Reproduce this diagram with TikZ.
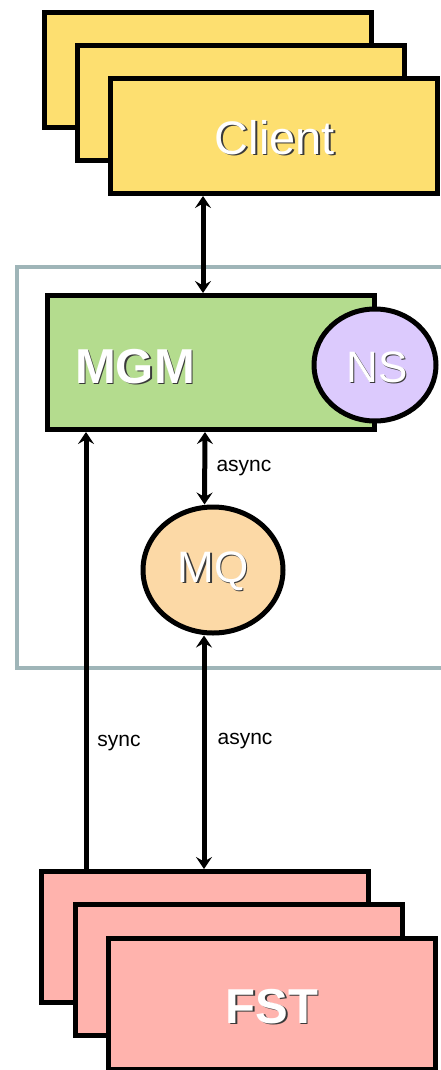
\documentclass[tikz,border=0pt]{standalone}
\usepackage{fontspec}
\setmainfont{Liberation Sans}
\usetikzlibrary{arrows.meta,shapes.geometric}
\definecolor{cyellow}{HTML}{FDDF70}
\definecolor{cgreen}{HTML}{B4DC8E}
\definecolor{clav}{HTML}{DCCAFD}
\definecolor{corange}{HTML}{FCD9A6}
\definecolor{cpink}{HTML}{FFB3AD}
\definecolor{cgray}{HTML}{9FB5B8}
\definecolor{shadowc}{HTML}{3A3A3A}
\newcommand\shtext[1]{\makebox[0pt][l]{\hspace{1.5pt}\raisebox{-1.5pt}{\textcolor{shadowc}{#1}}}\textcolor{white}{#1}}
\begin{document}
\begin{tikzpicture}[x=1pt,y=-1pt,
  card/.style={draw=black, line width=5pt, rectangle, inner sep=0pt, minimum width=327pt, minimum height=#1},
  oval/.style={draw=black, line width=5pt, ellipse, inner sep=0pt},
  bigtext/.style={inner sep=0pt, font=\fontsize{#1}{#1}\selectfont},
  small/.style={inner sep=0pt, font=\fontsize{21}{21}\selectfont, text=black},
  conn/.style={line width=5pt, draw=black},
  tip/.tip={Stealth[length=12pt,width=16pt,inset=4.5pt]}
]
\useasboundingbox (0,0) rectangle (441,1070);

% Client stack
\node[card=115pt, fill=cyellow] (cback) at (208,70) {};
\node[card=115pt, fill=cyellow] (cmid) at (241,103) {};
\node[card=115pt, fill=cyellow] (client) at (274,136) {};
\node[bigtext=47] (clienttext) at (275,138) {\shtext{Client}};

% container
\draw[cgray, line width=4.5pt] (17,267) rectangle (470,668);

% MGM
\node[card=134pt, fill=cgreen] (mgm) at (211,362.5) {};
\node[bigtext=49] (mgmtext) at (135,367) {\shtext{\bfseries MGM}};
\node[oval, fill=clav, minimum width=122pt, minimum height=112pt] (ns) at (375,365) {};
\node[bigtext=44] (nstext) at (377,368) {\shtext{NS}};

% MQ
\node[oval, fill=corange, minimum width=140pt, minimum height=126pt] (mq) at (213,570) {};
\node[bigtext=44] (mqtext) at (213,572) {\shtext{MQ}};

% FST stack
\node[card=131pt, fill=cpink] (fback) at (205,937) {};
\node[card=131pt, fill=cpink] (fmid) at (238.5,970) {};
\node[card=131pt, fill=cpink] (fst) at (272,1004) {};
\node[bigtext=49] (fsttext) at (272,1007) {\shtext{\bfseries FST}};

% connectors
\draw[conn, tip-tip] (client.south -| 203,0) -- (203,0 |- mgm.north);
\draw[conn, tip-tip] (mgm.south -| 205,0) -- (204.5,0 |- mq.north);
\draw[conn, tip-tip] (mq.south -| 204,0) -- (204,0 |- fback.north);
\draw[conn, -tip] (fback.north -| 86,0) -- (86,0 |- mgm.south);

% labels
\node[small] (l1) at (244,468) {async};
\node[small] (l2) at (245,741) {async};
\node[small] (l3) at (119,743) {sync};
\end{tikzpicture}
\end{document}
